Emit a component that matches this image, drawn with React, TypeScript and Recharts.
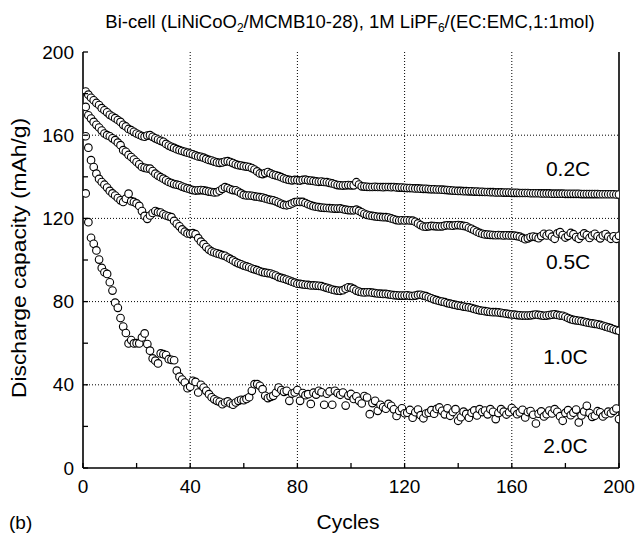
import React from 'react';
import { LineChart, Line, XAxis, YAxis, CartesianGrid, ReferenceDot } from 'recharts';

// Discharge capacity (mAh/g) per cycle, cycles 1..200
const cap02 = [
  181, 179.5, 178, 176.8, 175.5, 174.5, 173, 172, 171, 169.8,
  169, 168.2, 167.3, 166.4, 165, 164.2, 163, 162.4, 161.6, 160.8,
  160.2, 159.6, 159.3, 159.8, 160, 159.2, 158.5, 157.9, 157.3, 156.8,
  155.8, 155, 154.4, 153.9, 153.3, 152.8, 152.4, 152, 151.6, 151.2,
  150.8, 150.3, 149.8, 149.6, 149.2, 148.6, 148.1, 147.8, 147.3, 146.9,
  146.7, 146.9, 147.3, 147.5, 147.1, 146.6, 146, 145.6, 145.4, 145.1,
  144.9, 144.7, 144.2, 143.5, 142.6, 141.6, 141.3, 141.8, 142.3, 141.6,
  141, 140.7, 140.3, 139.8, 139.2, 138.8, 138.5, 138.3, 138.5, 138.4,
  138.2, 138.5, 138.6, 138.3, 138.2, 138, 137.8, 137.6, 137.7, 137.5,
  137.4, 137.1, 136.8, 136.4, 136, 135.9, 135.8, 135.9, 136, 135.9,
  135.9, 137.4, 136.3, 135.4, 135.3, 135.2, 135.1, 135.1, 135.2, 135.1,
  135.1, 135, 135.1, 135.1, 135, 135.1, 134.9, 134.8, 134.8, 134.7,
  134.6, 134.6, 134.5, 134.4, 134.4, 134.3, 134.2, 134.2, 134.1, 134,
  134, 133.9, 133.9, 133.8, 133.7, 133.6, 133.5, 133.4, 133.3, 133.2,
  133.2, 133.1, 133.1, 133, 133, 132.9, 132.9, 132.8, 132.8, 132.7,
  132.7, 132.6, 132.6, 132.5, 132.5, 132.5, 132.4, 132.4, 132.4, 132.3,
  132.3, 132.3, 132.2, 132.2, 132.2, 132.2, 132.1, 132.1, 132.1, 132.1,
  132, 132, 132, 132, 131.9, 131.9, 131.9, 131.9, 131.9, 131.8,
  131.8, 131.8, 131.8, 131.8, 131.8, 131.7, 131.7, 131.7, 131.7, 131.7,
  131.7, 131.7, 131.6, 131.6, 131.6, 131.6, 131.6, 131.6, 131.5, 131.5,
];

const cap05 = [
  173.6, 169.6, 168, 166.4, 165, 163.7, 162.2, 160.8, 160, 159.5,
  158.5, 157.6, 156.4, 155.2, 152.8, 152, 150.5, 149.5, 148.3, 147.1,
  146, 144.7, 144.3, 144, 143.9, 142.8, 141.5, 140.6, 139.8, 139.1,
  138.3, 137.5, 137, 136.5, 136.2, 135.9, 135.3, 134.8, 134.4, 134,
  133.6, 133.4, 133.5, 133.6, 133.5, 133.2, 132.9, 132.7, 132.5, 132.6,
  133.3, 134.2, 135, 134.6, 134, 133.6, 133.5, 132.8, 132, 131.3,
  131, 131, 130.9, 130.6, 130.4, 130.2, 130, 129.6, 129.2, 128.9,
  128.7, 128.2, 127.6, 127, 126.5, 126.3, 126.6, 127.2, 127.8, 128,
  127.9, 127.9, 127.4, 126.8, 126.3, 125.9, 125.6, 125.4, 125.2, 125.1,
  125, 124.9, 124.8, 124.7, 124.7, 124.8, 124.5, 124.2, 124, 123.9,
  123.9, 124.2, 123.6, 122.9, 122.2, 121.7, 121.4, 121.2, 121, 120.8,
  120.7, 120.6, 120.6, 120.4, 120, 119.6, 119.2, 119, 119.1, 119,
  119.1, 119, 118.9, 118.4, 117.6, 116.8, 116.1, 116, 116.2, 116.4,
  116.3, 116.2, 116.1, 116.2, 116.5, 116.7, 116.6, 116.5, 116.7, 116.8,
  116.6, 116.4, 116.2, 115.5, 115, 114.3, 113.6, 113, 112.6, 112.3,
  112.2, 112.1, 112, 111.9, 112, 111.9, 111.8, 111.9, 111.8, 111.8,
  111.7, 111.5, 111.2, 110.6, 110, 110.4, 111, 111.3, 111, 110.5,
  111.5, 112.6, 111.8, 112.6, 111.2, 110.2, 112.8, 113.4, 112, 110.8,
  111.6, 113, 112.4, 111, 110.2, 111.6, 112.8, 112, 110.6, 111.8,
  112.6, 111.4, 110.4, 111.8, 112.5, 111.2, 110.2, 111.4, 110.2, 111.6,
];

const cap10 = [
  159.5, 154, 148, 144.7, 141.5, 139, 137.5, 136.2, 134.8, 133.2,
  132, 131, 129.8, 128.7, 127.9, 129.5, 131.9, 128.3, 127.9, 127.2,
  126, 123.5, 121.2, 119.8, 121.4, 122.6, 123.5, 123, 122.8, 122,
  121.4, 121, 120.6, 118.8, 117.4, 116.2, 114.7, 113.6, 112.8, 112.6,
  112.9, 112.4, 110.5, 108.8, 107.6, 106.2, 105, 104.1, 103.6, 103.2,
  102.8, 102.3, 102, 101.2, 100.5, 99.8, 99, 98.4, 97.9, 97.3,
  96.9, 96.5, 95.9, 95.5, 95.1, 94.6, 94.2, 93.9, 93.7, 93.5,
  93, 92.5, 91.8, 91.4, 91, 90.6, 90.1, 89.6, 89.1, 88.6,
  88.5, 88.3, 88.1, 88, 87.8, 87.8, 87.7, 87.6, 87.4, 87,
  86.6, 86.2, 85.8, 85.5, 85.3, 85.2, 85.5, 86.2, 86.9, 86.7,
  86.1, 85.3, 84.8, 84.5, 84.4, 84.5, 84.5, 84.3, 84.1, 83.9,
  83.8, 83.7, 83.7, 83.5, 83.3, 83.1, 83, 82.9, 82.9, 82.9,
  83, 82.8, 82.7, 82.9, 83.2, 83.3, 82.9, 82.6, 82.1, 81.6,
  81.1, 80.7, 80.3, 80, 79.7, 79.3, 79, 78.7, 78.4, 78.1,
  77.9, 77.6, 77.4, 77.2, 76.9, 76.5, 76.1, 75.8, 75.6, 75.4,
  75.2, 75, 74.9, 74.9, 74.8, 74.6, 74.4, 74.2, 74, 73.8,
  73.7, 73.5, 73.4, 73.3, 73.3, 73.3, 73.4, 73.6, 73.8, 73.6,
  73.4, 73.2, 73.3, 73.5, 73.7, 73.9, 73.6, 73.3, 73.2, 72.7,
  72.1, 71.6, 71.2, 71, 70.8, 70.6, 70.3, 70, 69.7, 69.5,
  69.3, 69.1, 68.8, 68.4, 68, 67.6, 67.2, 66.7, 66.3, 66,
];

const cap20 = [
  132, 118.2, 110.7, 107.8, 104.6, 100.2, 96.2, 94.1, 93.3, 89.3,
  85.3, 79.5, 77, 72.1, 68, 64.9, 59.9, 61.5, 59.9, 60,
  59.9, 62.8, 64.7, 59.6, 56.4, 52.7, 51.6, 50.3, 55.1, 54.7,
  54.3, 52.3, 52, 51.8, 46.8, 43.9, 42.5, 41.1, 38.4, 39.1,
  41.9, 41.4, 36.3, 40, 38.7, 37.1, 35.5, 34, 33, 32.3,
  31.8, 30.7, 31.5, 32, 31, 30.4, 31.5, 32.3, 32.8, 32.6,
  33.2, 34, 37.1, 40.3, 40.3, 39.5, 37.9, 34.7, 33.6, 34.2,
  34.7, 36.2, 38.7, 37.5, 36.6, 37.1, 32.3, 35.8, 36.3, 37.5,
  32.3, 36, 35, 35.5, 30.8, 36.2, 35.3, 37.1, 36.4, 30.4,
  35.7, 36.8, 30.4, 37.1, 36, 35.2, 36.3, 30, 34.8, 35.6,
  33.2, 34.5, 32.3, 31, 34.6, 33.9, 25.9, 31.2, 32.3, 27.5,
  30.4, 29.3, 28.5, 30.8, 29.9, 28.2, 25, 27.4, 28.7, 26.3,
  26.6, 27.9, 24.2, 26.8, 28.1, 25.4, 23.9, 26.2, 26.6, 27.8,
  26.1, 28.4, 29.1, 27.5, 25.8, 28.7, 25.1, 26.9, 28.3, 22.7,
  24.4, 27.1, 26, 24.2, 26.6, 27.7, 25.3, 28.3, 26.9, 27.6,
  25.8, 28.3, 27, 23.5, 26.4, 28.3, 27.1, 25.7, 26.8, 28.8,
  27.5, 25.9, 26.7, 28, 24.3, 26.9, 27.4, 25.6, 21.4, 26.1,
  27.2, 24.8, 25.9, 27.6, 26.2, 28.3, 27, 24.9, 22.7, 26.5,
  27.8, 25.4, 26.6, 28.1, 21.9, 25.3, 27.2, 29.9, 26.4, 24.6,
  25.1, 27.3, 26.8, 24.8, 25.9, 27.1, 26.3, 27.5, 28.6, 23.5,
];

const xTicks = [0, 20, 40, 60, 80, 100, 120, 140, 160, 180, 200];
const yTicks = [0, 20, 40, 60, 80, 100, 120, 140, 160, 180, 200];
const gridValues = [40, 80, 120, 160];
const seriesLabels = [
  { name: '0.2C', x: 181, y: 143.9 },
  { name: '0.5C', x: 181, y: 99.5 },
  { name: '1.0C', x: 180, y: 53.7 },
  { name: '2.0C', x: 180, y: 10.8 },
];

const toRows = (arr: number[]) => arr.map((v, i) => ({ c: i + 1, v }));
const series = [cap20, cap10, cap05, cap02].map(toRows);

const FONT = '"Liberation Sans", Arial, Helvetica, sans-serif';
const TICK_LEN = 5;
const labelled = (v: number) => v % 40 === 0;

const BottomTick = (p: any) => {
  const v = p.payload.value;
  return (
    <g>
      <line x1={p.x} x2={p.x} y1={p.y} y2={p.y - TICK_LEN} stroke="#000" strokeWidth={1.3} />
      {labelled(v) && (
        <text x={p.x} y={p.y + 25} textAnchor="middle" fontSize={19} fontFamily={FONT} fill="#000">{v}</text>
      )}
    </g>
  );
};
const TopTick = (p: any) => (
  <line x1={p.x} x2={p.x} y1={p.y} y2={p.y + TICK_LEN} stroke="#000" strokeWidth={1.3} />
);
const LeftTick = (p: any) => {
  const v = p.payload.value;
  return (
    <g>
      <line x1={p.x} x2={p.x + TICK_LEN} y1={p.y} y2={p.y} stroke="#000" strokeWidth={1.3} />
      {labelled(v) && (
        <text x={p.x - 9} y={p.y + 6.5} textAnchor="end" fontSize={19} fontFamily={FONT} fill="#000">{v}</text>
      )}
    </g>
  );
};
const RightTick = (p: any) => (
  <line x1={p.x} x2={p.x - TICK_LEN} y1={p.y} y2={p.y} stroke="#000" strokeWidth={1.3} />
);

const SeriesLabel = (name: string) => (props: any) => {
  const vb = props.viewBox || {};
  const cx = vb.x + (vb.width || 0) / 2;
  const cy = vb.y + (vb.height || 0) / 2;
  return (
    <text x={cx} y={cy + 7.5} textAnchor="middle" fontSize={21} fontFamily={FONT} fill="#000">{name}</text>
  );
};

export default function App() {
  const axisLine = { stroke: '#000', strokeWidth: 1.6 };
  return (
    <div style={{ position: 'absolute', left: 0, top: 0, width: 636, height: 534, background: '#fff' }}>
      <LineChart width={636} height={534} margin={{ top: 52, right: 0, bottom: 0, left: 0 }}>
        <CartesianGrid
          horizontalValues={gridValues}
          verticalValues={gridValues}
          stroke="#000"
          strokeDasharray="1 2"
          strokeWidth={1}
        />
        <XAxis
          type="number"
          dataKey="c"
          domain={[0, 200]}
          ticks={xTicks}
          height={66}
          tickSize={0}
          tickMargin={0}
          tickLine={false}
          axisLine={axisLine}
          tick={<BottomTick />}
          allowDataOverflow
          interval={0}
        />
        <XAxis
          xAxisId="top"
          orientation="top"
          type="number"
          domain={[0, 200]}
          ticks={xTicks}
          height={0}
          tickSize={0}
          tickMargin={0}
          tickLine={false}
          axisLine={axisLine}
          tick={<TopTick />}
          interval={0}
        />
        <YAxis
          type="number"
          domain={[0, 200]}
          ticks={yTicks}
          width={83}
          tickSize={0}
          tickMargin={0}
          tickLine={false}
          axisLine={axisLine}
          tick={<LeftTick />}
          interval={0}
        />
        <YAxis
          yAxisId="right"
          orientation="right"
          type="number"
          domain={[0, 200]}
          ticks={yTicks}
          width={17}
          tickSize={0}
          tickMargin={0}
          tickLine={false}
          axisLine={axisLine}
          tick={<RightTick />}
          interval={0}
        />
        {series.map((rows, i) => (
          <Line
            key={i}
            data={rows}
            dataKey="v"
            stroke="none"
            isAnimationActive={false}
            dot={{ r: 3.8, fill: '#fff', stroke: '#000', strokeWidth: 1.1 }}
            activeDot={false}
          />
        ))}
        {seriesLabels.map((s) => (
          <ReferenceDot key={s.name} x={s.x} y={s.y} r={0} fill="none" stroke="none" label={SeriesLabel(s.name)} />
        ))}
      </LineChart>
      <svg width={636} height={534} style={{ position: 'absolute', left: 0, top: 0, pointerEvents: 'none' }}>
        <text x={350} y={28} textAnchor="middle" fontSize={18.5} fontFamily={FONT} fill="#000">
          Bi-cell (LiNiCoO<tspan fontSize={12} dy={4}>2</tspan>
          <tspan dy={-4}>/MCMB10-28), 1M LiPF</tspan>
          <tspan fontSize={12} dy={4}>6</tspan>
          <tspan dy={-4}>/(EC:EMC,1:1mol)</tspan>
        </text>
        <text
          x={0}
          y={0}
          transform="translate(25.5,258) rotate(-90)"
          textAnchor="middle"
          fontSize={21}
          fontFamily={FONT}
          fill="#000"
          textLength={280}
          lengthAdjust="spacingAndGlyphs"
        >
          Discharge capacity (mAh/g)
        </text>
        <text x={348} y={529} textAnchor="middle" fontSize={21} fontFamily={FONT} fill="#000">Cycles</text>
        <text x={9} y={529} fontSize={19} fontFamily={FONT} fill="#000">(b)</text>
      </svg>
    </div>
  );
}
